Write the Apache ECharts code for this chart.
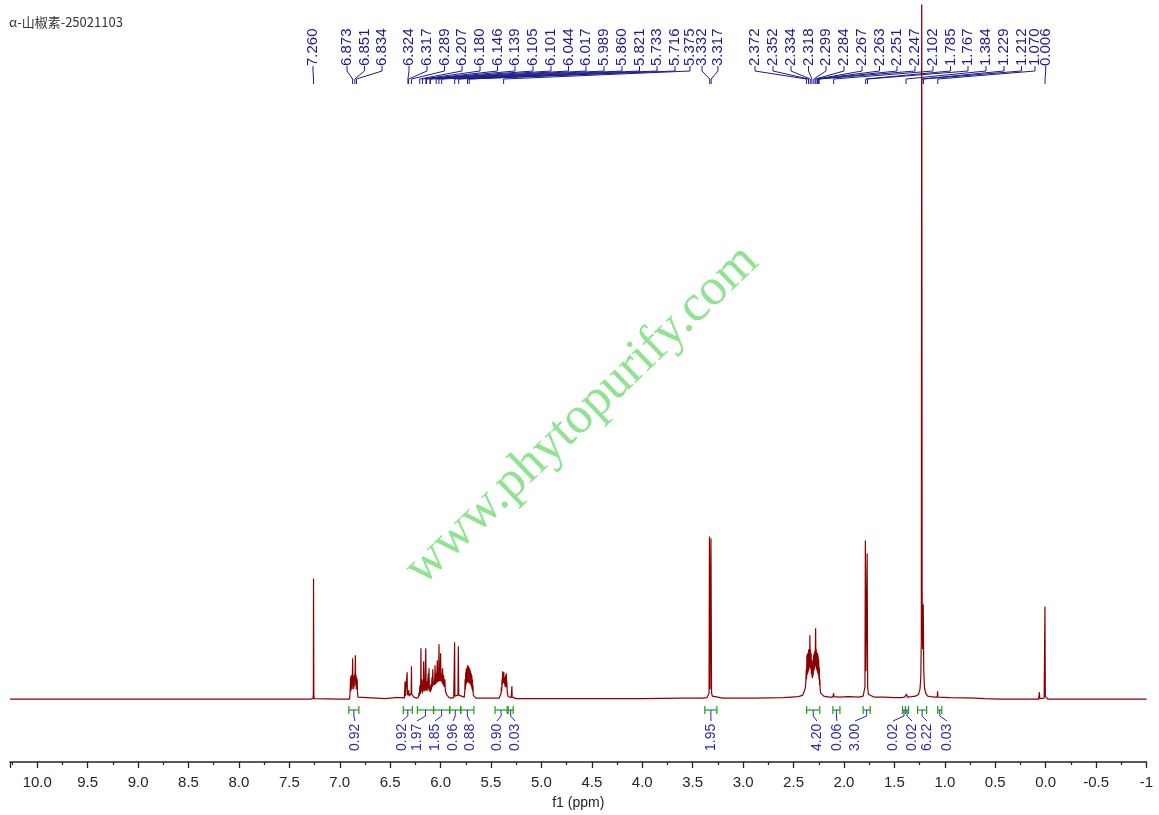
<!DOCTYPE html>
<html><head><meta charset="utf-8">
<script src="https://cdn.jsdelivr.net/npm/echarts@6.0.0/dist/echarts.min.js"></script>
<style>html,body{margin:0;padding:0;background:#fff}#c{width:1159px;height:815px}</style>
</head><body><div id="c"></div>
<script>
// ---------------- data ----------------
const title = 'α-山椒素-25021103';
const axisName = 'f1 (ppm)';
const watermark = 'www.phytopurify.com';

// spectrum vertices [ppm, intensity]
const spectrum = [
[10.27,0],[9.0,0],[8.0,0],[7.5,0],[7.30,0],[7.266,0.5],[7.262,4],[7.260,121],[7.257,4],[7.253,0.5],[7.0,0],
[6.905,0],[6.900,3],[6.896,12],[6.893,22],[6.890,8],[6.887,24],[6.884,12],[6.881,23],[6.878,10],[6.875,24],[6.872,41],[6.869,14],[6.866,22],[6.863,10],[6.860,23],[6.857,12],[6.854,25],[6.851,18],[6.848,24],[6.845,44],[6.842,14],[6.839,24],[6.836,10],[6.833,22],[6.830,12],[6.827,20],[6.824,6],[6.820,2],[6.812,0],
[6.55,0.5],[6.45,1.5],[6.38,1.5],[6.36,1],[6.355,2],[6.352,18],[6.349,3],[6.340,4],[6.335,5],[6.332,27],[6.329,4],[6.324,8],[6.320,4],[6.317,9],[6.310,3],[6.300,4],[6.292,6],[6.289,33],[6.286,5],[6.278,3],[6.265,2],
[6.24,1],[6.22,2],[6.217,3],[6.215,6],[6.212,3],[6.208,4],[6.205,14],[6.201,5],[6.198,8],[6.195,51],[6.192,8],[6.188,6],[6.185,20],[6.181,6],[6.175,8],[6.172,12],[6.168,38],[6.164,8],[6.160,12],[6.156,8],[6.150,10],[6.147,51],[6.143,9],[6.138,18],[6.134,8],[6.128,9],[6.122,26],[6.119,10],[6.115,31],[6.111,8],[6.105,12],[6.101,7],[6.097,15],[6.092,9],[6.085,22],[6.082,12],[6.078,30],[6.072,14],[6.065,18],[6.060,14],[6.055,34],[6.050,15],[6.045,26],[6.040,16],[6.033,39],[6.029,17],[6.025,30],[6.020,18],[6.016,55],[6.012,18],[6.008,30],[6.004,18],[6.000,46],[5.995,18],[5.990,26],[5.985,16],[5.980,31],[5.975,14],[5.970,24],[5.964,12],[5.958,20],[5.952,8],[5.945,10],[5.938,4],[5.930,3],[5.915,1.5],[5.895,1],
[5.870,1.5],[5.864,3],[5.861,57],[5.858,3],[5.845,3],[5.828,4],[5.824,53],[5.820,4],[5.805,3],
[5.765,2],[5.760,8],[5.757,20],[5.754,10],[5.751,27],[5.748,14],[5.745,31],[5.742,16],[5.739,29],[5.736,18],[5.733,34],[5.730,17],[5.727,30],[5.724,18],[5.721,33],[5.718,16],[5.715,31],[5.712,18],[5.709,30],[5.706,15],[5.703,28],[5.700,14],[5.697,26],[5.694,12],[5.691,24],[5.688,10],[5.685,20],[5.682,8],[5.679,14],[5.676,4],[5.670,2],[5.650,1],
[5.42,1],[5.405,2],[5.400,6],[5.397,12],[5.394,8],[5.391,20],[5.388,14],[5.385,28],[5.382,16],[5.379,26],[5.376,18],[5.373,27],[5.370,16],[5.367,22],[5.364,14],[5.361,18],[5.358,12],[5.355,24],[5.352,14],[5.349,26],[5.346,12],[5.343,18],[5.340,8],[5.336,10],[5.332,3],[5.325,2],[5.300,1.5],[5.296,2],[5.293,13],[5.290,2],[5.28,1],[5.25,0.5],
[5.0,0.5],[4.5,0.5],[4.0,0.5],[3.6,1],[3.40,1],
[3.36,1.5],[3.345,3],[3.338,6],[3.334,163],[3.328,10],[3.323,12],[3.319,161],[3.313,6],[3.305,3],[3.29,1.5],[3.2,1],[2.9,1],[2.6,1.5],[2.45,2.5],[2.41,4],
[2.400,6],[2.390,9],[2.382,12],[2.378,18],[2.374,30],[2.371,20],[2.368,44],[2.365,24],[2.362,46],[2.359,26],[2.356,45],[2.353,28],[2.350,50],[2.347,30],[2.344,48],[2.341,32],[2.338,64],[2.335,35],[2.332,50],[2.329,30],[2.326,46],[2.323,25],[2.320,40],[2.317,22],[2.314,34],[2.311,21],[2.308,38],[2.305,24],[2.302,44],[2.299,28],[2.296,46],[2.293,30],[2.290,48],[2.287,32],[2.284,52],[2.281,71],[2.278,34],[2.275,50],[2.272,30],[2.269,47],[2.266,28],[2.263,46],[2.260,26],[2.257,44],[2.254,24],[2.251,40],[2.248,20],[2.245,32],[2.242,14],[2.239,20],[2.236,9],[2.230,6],[2.22,4],[2.20,3],[2.15,2],
[2.11,2],[2.105,2.5],[2.102,6],[2.099,2.5],[2.05,2],[1.95,2.5],[1.85,2],[1.81,3],[1.798,5],[1.792,12],[1.788,159],[1.782,28],[1.775,30],[1.770,146],[1.765,12],[1.758,5],[1.745,3],[1.70,2],[1.6,2],[1.5,1.5],
[1.43,1.5],[1.42,3],[1.415,1.5],[1.40,2],[1.392,2.5],[1.388,4],[1.384,2],[1.378,5],[1.374,2],[1.36,2],[1.33,2.5],[1.29,3],[1.26,5],[1.246,10],[1.238,22],[1.233,60],[1.229,760],[1.225,110],[1.220,50],[1.214,95],[1.209,30],[1.202,12],[1.19,6],[1.17,3],[1.14,2.5],[1.10,2],
[1.075,2],[1.072,8],[1.068,2],[1.05,2],[0.95,1.5],[0.8,1.2],[0.7,1],[0.6,0.5],[0.45,0],[0.10,0],[0.07,0],[0.066,0.5],[0.062,7],[0.058,0.5],[0.015,1],[0.010,3],[0.007,93],[0.003,3],[0.0,1],[-0.02,0],[-1.0,0]
];

// peak picking labels (ppm)
const peakPpm = [7.260, 6.873, 6.851, 6.834, 6.324, 6.317, 6.289, 6.207, 6.180, 6.146, 6.139, 6.105, 6.101, 6.044, 6.017, 5.989, 5.860, 5.821, 5.733, 5.716, 5.375, 3.332, 3.317, 2.372, 2.352, 2.334, 2.318, 2.299, 2.284, 2.267, 2.263, 2.251, 2.247, 2.102, 1.785, 1.767, 1.384, 1.229, 1.212, 1.070, 0.006];

// integration ranges (ppm) and values
const integralFrom  = [6.91, 6.37, 6.23, 6.07, 5.91, 5.80, 5.46, 5.33, 3.38, 2.37, 2.11, 1.81, 1.42, 1.39, 1.27, 1.07];
const integralTo    = [6.81, 6.28, 6.07, 5.91, 5.80, 5.67, 5.34, 5.28, 3.26, 2.24, 2.04, 1.74, 1.39, 1.36, 1.18, 1.03];
const integralValue = [0.92, 0.92, 1.97, 1.85, 0.96, 0.88, 0.90, 0.03, 1.95, 4.20, 0.06, 3.00, 0.02, 0.02, 6.22, 0.03];

// ---------------- layout (label slots, px) ----------------
const topLabelX = [313, 347, 364.5, 382, 409, 427, 444.5, 462, 480, 497.5, 515, 533, 551, 568.5, 586, 604, 622, 639.5, 657, 675, 690, 702, 718, 755, 773, 791, 808.5, 826, 844, 862, 879.5, 897, 915, 933, 950.5, 968, 986, 1004, 1021.5, 1035, 1045.7];
const integralLabelX = [355, 402, 417, 435, 453, 470, 497, 515, 711, 817, 837, 855, 893, 912, 927, 947];

const SANS = '"Liberation Sans", Arial, Helvetica, sans-serif';
const chart = echarts.init(document.getElementById('c'), null, {renderer: 'canvas'});
chart.setOption({
  animation: false,
  backgroundColor: '#ffffff',
  grid: {left: 10, right: 12.5, top: 5, bottom: 51, containLabel: false},
  xAxis: {
    type: 'value', inverse: true, min: -1, max: 10.27, interval: 0.5,
    name: axisName, nameLocation: 'middle', nameGap: 34,
    nameTextStyle: {fontFamily: SANS, fontSize: 14, color: '#222'},
    axisLine: {show: true, onZero: false, lineStyle: {color: '#222', width: 1.5}},
    axisTick: {show: true, inside: false, length: 6, lineStyle: {color: '#222', width: 1.3}},
    minorTick: {show: true, splitNumber: 2, length: 3, lineStyle: {color: '#222', width: 1.2}},
    splitLine: {show: false},
    axisLabel: {
      margin: 13, fontFamily: SANS, fontSize: 15, color: '#22223a',
      formatter: v => Math.abs(v * 2 - Math.round(v * 2)) > 1e-6 ? '' : (v === -1 ? '-1' : v.toFixed(1))
    }
  },
  yAxis: {type: 'value', min: -63, max: 696, show: false},
  series: [{
    type: 'line', data: spectrum, showSymbol: false, symbol: 'none', clip: true, z: 3,
    lineStyle: {color: '#8b0000', width: 1.2}
  }]
});

const px = v => chart.convertToPixel({xAxisIndex: 0}, v);
const g = [];
const NAVY = '#1c1c8c';
// title
g.push({type: 'text', x: 9, y: 22, style: {text: title, font: '13px "Noto Sans CJK SC", sans-serif', fill: '#333', verticalAlign: 'middle'}});
// watermark
g.push({type: 'text', x: 582, y: 415, rotation: 0.763, z: -1,
  style: {text: watermark, font: '52px "Liberation Serif", "Times New Roman", serif', fill: '#90e390', align: 'center', verticalAlign: 'middle'}});
// peak labels + connectors
peakPpm.forEach((p, i) => {
  const lx = topLabelX[i], x = px(p);
  g.push({type: 'text', x: lx, y: 66, rotation: Math.PI / 2,
    style: {text: p.toFixed(3), font: '15px ' + SANS, fill: NAVY, align: 'left', verticalAlign: 'middle'}});
  g.push({type: 'polyline', shape: {points: [[lx, 66], [lx, 71], [x, 79], [x, 84]]},
    style: {stroke: NAVY, lineWidth: 1, fill: null}});
});
// integrals
const GREEN = '#1f9b1f', BLUE = '#2a2aa8';
integralFrom.forEach((f, i) => {
  const x1 = px(f), x2 = px(integralTo[i]), cx = (x1 + x2) / 2, lx = integralLabelX[i];
  g.push({type: 'polyline', shape: {points: [[x1, 706], [x1, 714]]}, style: {stroke: GREEN, lineWidth: 1.2}});
  g.push({type: 'polyline', shape: {points: [[x2, 706], [x2, 714]]}, style: {stroke: GREEN, lineWidth: 1.2}});
  g.push({type: 'polyline', shape: {points: [[x1, 710], [x2, 710]]}, style: {stroke: GREEN, lineWidth: 1.2}});
  g.push({type: 'polyline', shape: {points: [[cx, 710], [cx, 716], [lx, 721]]}, style: {stroke: BLUE, lineWidth: 1, fill: null}});
  g.push({type: 'text', x: lx, y: 751, rotation: Math.PI / 2,
    style: {text: integralValue[i].toFixed(2), font: '14px ' + SANS, fill: BLUE, align: 'left', verticalAlign: 'middle'}});
});
chart.setOption({graphic: {elements: g}});
</script>
</body></html>
